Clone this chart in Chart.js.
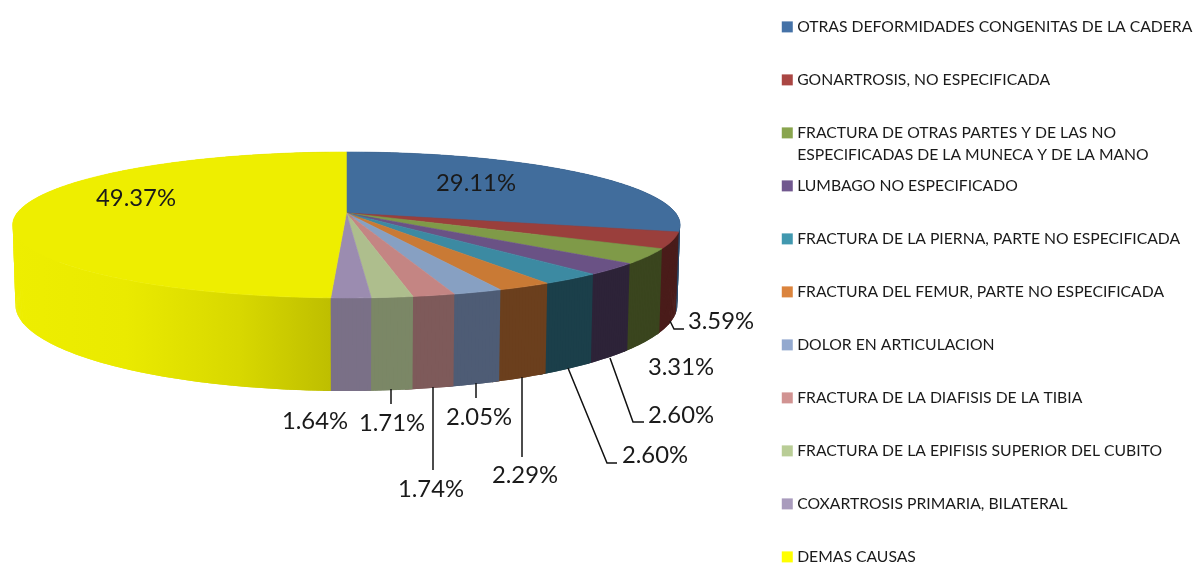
<!DOCTYPE html>
<html><head><meta charset="utf-8">
<style>html,body{margin:0;padding:0;background:#fff;width:1195px;height:563px;overflow:hidden}canvas{display:block}</style>
<script src="https://cdn.jsdelivr.net/npm/chart.js@4/dist/chart.umd.js"></script>
</head><body><canvas id="c" width="1195" height="650"></canvas>
<script>
const categories = ["OTRAS DEFORMIDADES CONGENITAS DE LA CADERA","GONARTROSIS, NO ESPECIFICADA","FRACTURA DE OTRAS PARTES Y DE LAS NO","LUMBAGO NO ESPECIFICADO","FRACTURA DE LA PIERNA, PARTE NO ESPECIFICADA","FRACTURA DEL FEMUR, PARTE NO ESPECIFICADA","DOLOR EN ARTICULACION","FRACTURA DE LA DIAFISIS DE LA TIBIA","FRACTURA DE LA EPIFISIS SUPERIOR DEL CUBITO","COXARTROSIS PRIMARIA, BILATERAL","DEMAS CAUSAS"];
const category3Line2 = "ESPECIFICADAS DE LA MUNECA Y DE LA MANO";
const values = [29.11,3.59,3.31,2.60,2.60,2.29,2.05,1.74,1.71,1.64,49.37];
const topColors = ["#416d9c","#9a3f3c","#7f9a48","#6a5285","#3c8aa2","#c97a35","#87a0c2","#c48583","#aebe8d","#9b8cb0","#eeee00"];
const sideColors = ["#2a4766","#4a1c1a","#3a451e","#2d2338","#1b3f4a","#6b3f1d","#4e5c75","#7e5a5a","#7b8766","#7a7087","#eeee00"];
const legendColors = ["#4572a7","#aa4643","#89a54e","#71588f","#4198af","#db843d","#93a9cf","#d19392","#b9cd96","#a99bbd","#ffff00"];
const labelSpots = [[476,183],[721,321],[681,367],[681,415],[655,455],[525,475],[479,417],[431,489],[392,423],[315,421],[136,198]];
const leaders = [null,[[670,321],[674,329],[684,329]],null,[[610,358],[633,422],[644,422]],[[568,368],[607,463],[617,463]],[[522,377],[522,457]],[[476,383],[476,398]],[[433,387],[433,470]],[[391,389],[391,404]],null,null];

const FONT = "Lato, Carlito, sans-serif";
const TOP = {x:346.4,y:213,rx:329.2,ry:71,p:0.164};
const BOT = {x:346.4,y:290.5,rx:326.5,ry:84,p:0.164};
function pt(P,a){const u=Math.cos(a),v=Math.sin(a),d=1-P.p*v;return [P.x+P.rx*u/d,P.y+P.ry*v/d];}
function arcPts(P,a0,a1){const n=Math.max(2,Math.ceil((a1-a0)/0.01)),o=[];for(let i=0;i<=n;i++)o.push(pt(P,a0+(a1-a0)*i/n));return o;}
function trace(ctx,pts){ctx.beginPath();pts.forEach((q,i)=>i?ctx.lineTo(q[0],q[1]):ctx.moveTo(q[0],q[1]));ctx.closePath();}

Chart.ArcElement.prototype.draw=function(ctx){
  trace(ctx,[[TOP.x,TOP.y]].concat(arcPts(TOP,this.startAngle,this.endAngle)));
  ctx.fillStyle=this.options.backgroundColor;ctx.fill();
  ctx.strokeStyle=this.options.backgroundColor;ctx.lineWidth=0.6;ctx.stroke();
};
const pie3d={id:'pie3d',
  afterLayout(chart){const l=chart.legend;l.left=748;l.top=-18.25;l.right=1400;l.bottom=800;l.width=652;l.height=818;},
  beforeDatasetsDraw(chart){
    const ctx=chart.ctx,els=chart.getDatasetMeta(0).data;
    const yg=ctx.createLinearGradient(13,0,335,0);
    yg.addColorStop(0,"#eeee00");yg.addColorStop(0.35,"#eaea00");yg.addColorStop(0.7,"#d8d800");yg.addColorStop(1,"#bdbd00");
    els.forEach((el,i)=>{
      const end=el.endAngle+(i<els.length-1?0.02:0);
      const s=arcPts(TOP,el.startAngle,end),b=arcPts(BOT,el.startAngle,end);
      ctx.fillStyle=i===els.length-1?yg:sideColors[i];
      for(let k=0;k<s.length-1;k++){
        const m=Math.min(k+2,s.length-1);
        trace(ctx,[s[k],s[m],b[m],b[k]]);ctx.fill();
      }
    });
  },
  afterDraw(chart){
    const ctx=chart.ctx;ctx.save();
    ctx.strokeStyle="#111";ctx.lineWidth=1.5;
    leaders.forEach(L=>{if(!L)return;ctx.beginPath();L.forEach((q,i)=>i?ctx.lineTo(q[0],q[1]):ctx.moveTo(q[0],q[1]));ctx.stroke();});
    ctx.fillStyle="#1a1a1a";ctx.font="23.8px "+FONT;ctx.textAlign="center";ctx.textBaseline="middle";
    values.forEach((v,i)=>ctx.fillText(v.toFixed(2)+"%",labelSpots[i][0],labelSpots[i][1]));
    ctx.font="15.72px "+FONT;ctx.textAlign="left";
    ctx.fillText(category3Line2,797.25,155);
    ctx.restore();
  }
};
new Chart(document.getElementById('c'),{type:'pie',
  data:{labels:categories,datasets:[{data:values,backgroundColor:topColors,borderWidth:0}]},
  plugins:[pie3d],
  options:{responsive:false,animation:false,
    plugins:{tooltip:{enabled:false},
      legend:{position:'right',align:'start',
        labels:{boxWidth:4,boxHeight:4,padding:37.28,color:"#1a1a1a",font:{family:FONT,size:15.72},
          generateLabels(chart){return categories.map((t,i)=>({text:t,fillStyle:legendColors[i],strokeStyle:legendColors[i],lineWidth:7,hidden:false,index:i,fontColor:"#1a1a1a"}));}}}}}
});
</script></body></html>
